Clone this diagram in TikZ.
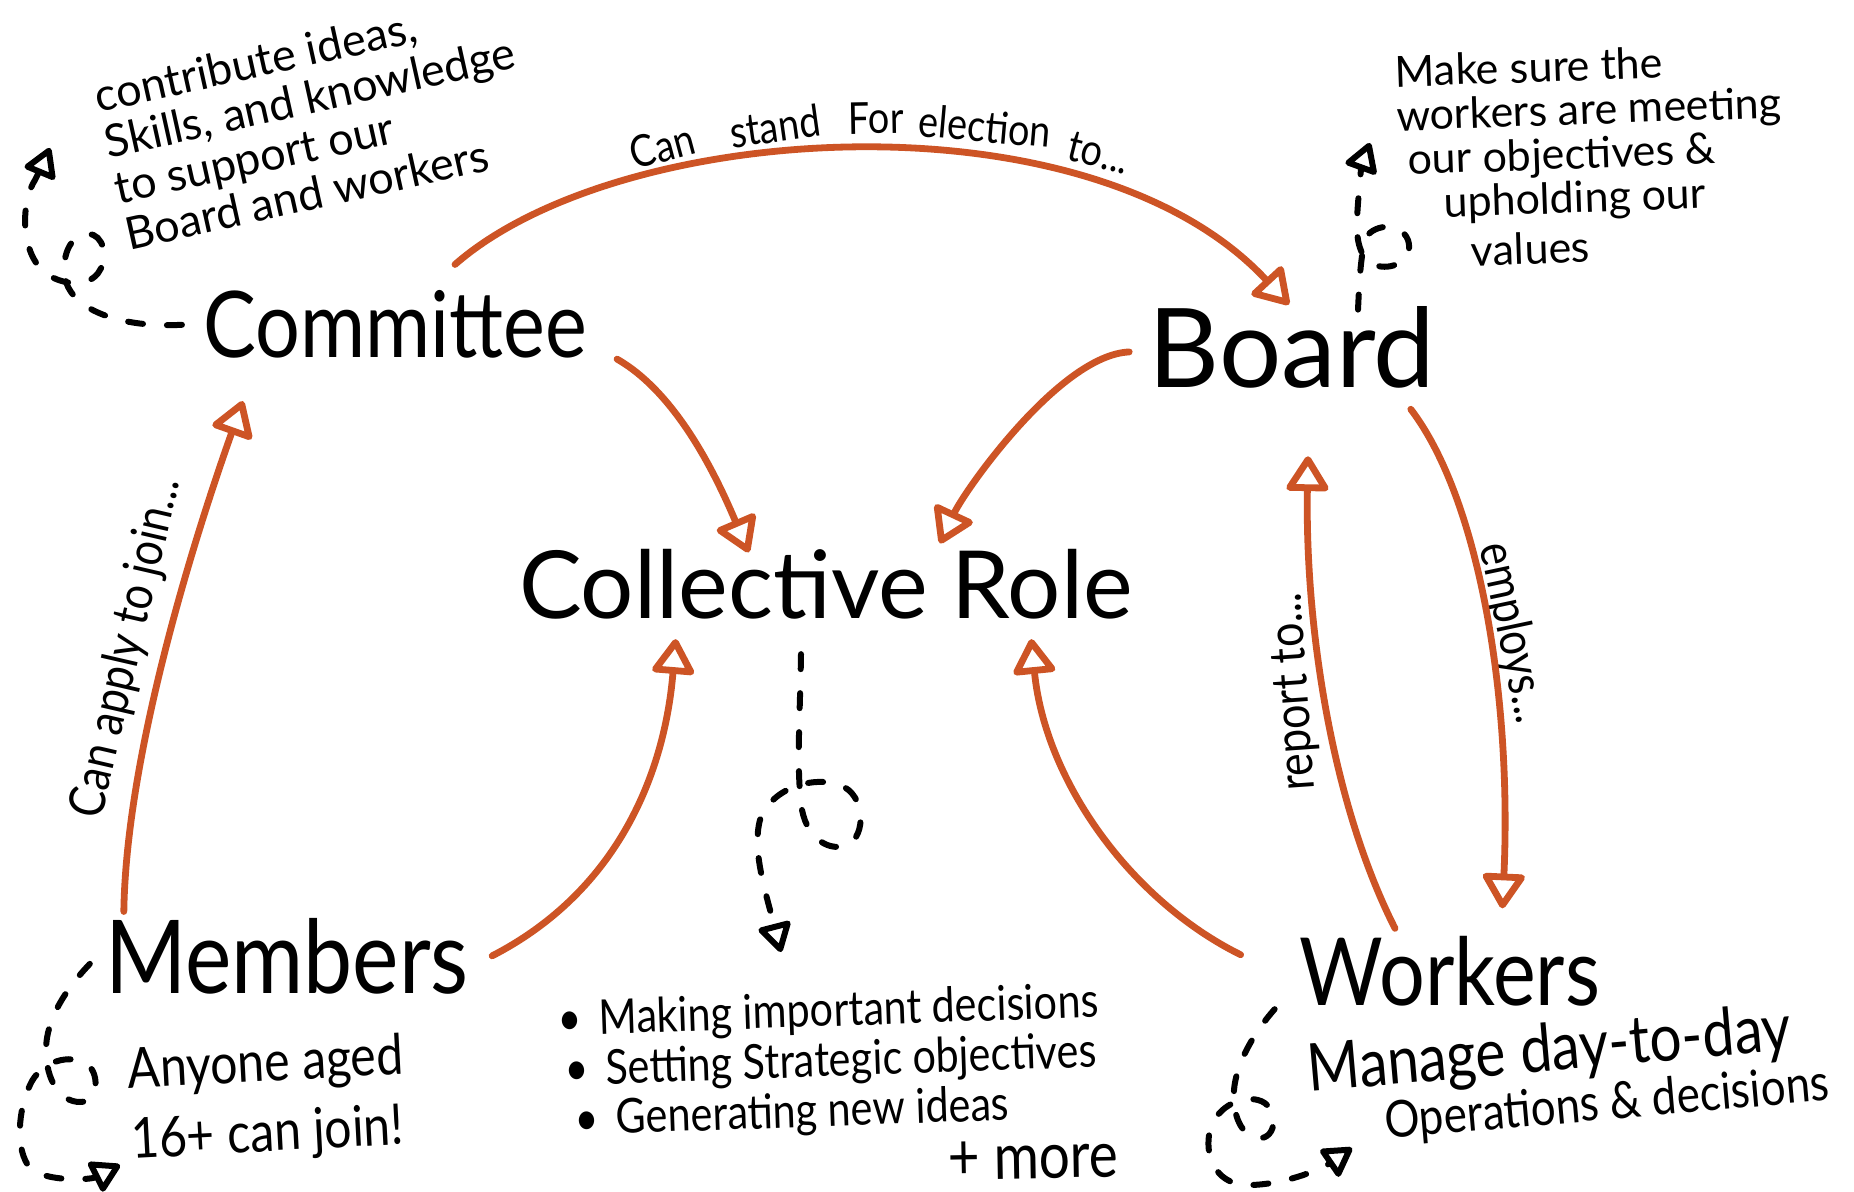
\documentclass[tikz,border=0pt]{standalone}
\usepackage{fontspec}
\setmainfont{Lato}
\usetikzlibrary{arrows.meta,calc}
\definecolor{arrowor}{RGB}{205,84,37}
\begin{document}
\begin{tikzpicture}[x=0.5pt,y=-0.5pt,
  title/.style={inner sep=0pt, anchor=base, xscale=0.86},
  hand/.style={inner sep=0pt, xscale=0.86, align=left},
  handw/.style={inner sep=0pt, align=left},
  elabel/.style={inner sep=0pt, xscale=0.86, font=\fontsize{22}{24}\selectfont},
  rel/.style={draw=arrowor, line width=3.4pt, line cap=round, line join=round,
    -{Triangle[open,round,length=19pt,width=23pt]}},
  loopy/.style={draw=black, line width=3pt, line cap=round,
    dash pattern=on 7.5pt off 12pt, -{Triangle[open,round,length=16pt,width=18pt]}}
]
\fill[white] (0,0) rectangle (1854,1192);
\useasboundingbox (0,0) rectangle (1854,1192);

% main nodes
\node[title, font=\fontsize{46}{48}\selectfont] (committee) at (395,358) {Committee};
\node[title, xscale=1/0.86, font=\fontsize{55}{58}\selectfont] (board) at (1292,388) {Board};
\node[title, xscale=1/0.86, font=\fontsize{47}{50}\selectfont] (collective) at (826,618) {Collective Role};
\node[title, font=\fontsize{51}{54}\selectfont] (members) at (287,993) {Members};
\node[title, font=\fontsize{47}{50}\selectfont] (workers) at (1450,1005) {Workers};

% notes
\node[rotate=12.5, handw, anchor=north west, font=\fontsize{22.5}{23.5}\selectfont] (notecom) at (91,80)
  {contribute ideas,\\Skills, and knowledge\\to support our\\Board and workers};
\node[rotate=2, handw, anchor=north west, font=\fontsize{21.5}{22}\selectfont] (noteboard) at (1394,55)
  {Make sure the\\workers are meeting\\\hspace*{5pt}our objectives \&\\\hspace*{22pt}upholding our\\[3pt]\hspace*{35pt}values};
\node[rotate=3, hand, anchor=north west, font=\fontsize{28}{35}\selectfont] (notemem) at (126,1047)
  {Anyone aged\\16+ can join!};
\node[rotate=2, hand, anchor=north west, font=\fontsize{24}{25}\selectfont] (notecoll) at (557,1000)
  {\textbullet\hspace{10pt}Making important decisions\\\hspace*{3pt}\textbullet\hspace{10pt}Setting Strategic objectives\\\hspace*{8pt}\textbullet\hspace{10pt}Generating new ideas};
\node[rotate=1, hand, font=\fontsize{32}{34}\selectfont] (more) at (1033,1160) {+ more};
\node[rotate=5, hand, anchor=base west, font=\fontsize{33}{34}\selectfont] (notework) at (1309,1092)
  {Manage day-to-day};
\node[rotate=5, hand, anchor=base west, font=\fontsize{25.5}{27}\selectfont] (noteworkb) at (1386,1139)
  {Operations \& decisions};

% edge labels
\node[rotate=15, elabel] (l1a) at (662,146) {Can};
\node[rotate=8, elabel] (l1b) at (775,126) {stand};
\node[rotate=1, elabel] (l1c) at (876,118) {For};
\node[rotate=-5, elabel] (l1d) at (985,126) {election};
\node[rotate=-14, elabel] (l1e) at (1099,153) {to...};
\node[rotate=77, elabel, font=\fontsize{25}{27}\selectfont] (l2) at (127,648) {Can apply to join...};
\node[rotate=94, elabel, font=\fontsize{25}{27}\selectfont] (l3) at (1295,692) {report to...};
\node[rotate=-78, elabel, font=\fontsize{24.5}{27}\selectfont] (l4) at (1512,633) {employs...};

% orange connectors
\draw[rel] ($(committee.north)+(60,-26)$) .. controls (620,120) and (1090,90) .. ($(board.north)+(-3,-2)$);
\draw[rel] ($(committee.south east)+(30,0)$) .. controls (680,395) and (720,485) .. ($(collective.north west)+(230,4)$);
\draw[rel] ($(board.west)+(-19,4)$) .. controls (1060,355) and (965,490) .. ($(collective.north)+(114,-5)$);
\draw[rel] ($(members.north west)+(19,-6)$) .. controls (126,760) and (190,550) .. ($(committee.south west)+(40,42)$);
\draw[rel] ($(members.east)+(23,0)$) .. controls (620,890) and (665,770) .. ($(collective.south west)+(157,20)$);
\draw[rel] ($(workers.west)+(-59,-16)$) .. controls (1130,900) and (1045,780) .. ($(collective.south east)+(-102,20)$);
\draw[rel] ($(workers.north)+(-55,-7)$) .. controls (1330,800) and (1305,620) .. ($(board.south)+(16,67)$);
\draw[rel] ($(board.south east)+(-25,20)$) .. controls (1480,500) and (1512,700) .. ($(workers.north east)+(-98,-27)$);

% dashed loop connectors
\coordinate (comtip) at (50,148);
\coordinate (boardtip) at (1370,143);
\coordinate (memtip) at (120,1165);
\coordinate (worktip) at (1352,1148);
\coordinate (colltip) at (781,952);

\draw[loopy] ($(committee.west)+(-21,0)$) .. controls (120,328) and (75,310) .. (66,282)
  .. controls (60,258) and (70,234) .. (88,234) .. controls (104,234) and (108,258) .. (100,270)
  .. controls (90,290) and (55,285) .. (40,268) .. controls (20,245) and (22,200) .. (35,180)
  .. controls (40,170) and (45,160) .. (comtip);
\draw[loopy] ($(board.north)+(66,3)$) .. controls (1359,290) and (1360,260) .. (1365,240)
  .. controls (1370,225) and (1400,220) .. (1408,240) .. controls (1414,258) and (1395,270) .. (1378,266)
  .. controls (1362,262) and (1356,245) .. (1357,220) .. controls (1358,195) and (1362,165) .. (boardtip);
\draw[loopy] ($(members.west)+(-15,8)$) .. controls (65,990) and (46,1020) .. (46,1050)
  .. controls (46,1080) and (60,1102) .. (80,1102) .. controls (98,1102) and (100,1075) .. (88,1065)
  .. controls (70,1052) and (40,1062) .. (30,1085) .. controls (18,1110) and (15,1150) .. (30,1168)
  .. controls (45,1182) and (90,1180) .. (memtip);
\draw[loopy] ($(workers.south west)+(-25,3)$) .. controls (1252,1035) and (1236,1065) .. (1234,1090)
  .. controls (1232,1120) and (1245,1140) .. (1262,1138) .. controls (1278,1135) and (1278,1105) .. (1258,1100)
  .. controls (1238,1095) and (1215,1110) .. (1210,1130) .. controls (1204,1155) and (1215,1183) .. (1245,1185)
  .. controls (1280,1186) and (1320,1170) .. (worktip);
\draw[loopy] ($(collective.south)+(-25,35)$) .. controls (800,720) and (796,770) .. (802,810)
  .. controls (808,840) and (830,852) .. (848,845) .. controls (866,835) and (866,795) .. (840,785)
  .. controls (810,775) and (770,790) .. (760,820) .. controls (752,850) and (765,890) .. (colltip);
\end{tikzpicture}
\end{document}
